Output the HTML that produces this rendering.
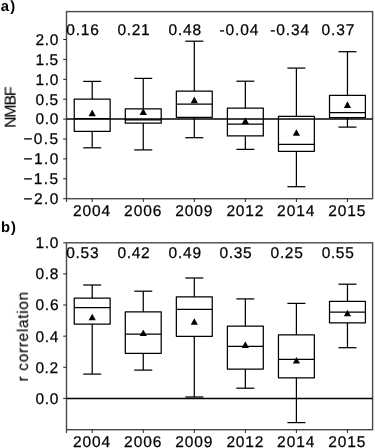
<!DOCTYPE html>
<html><head><meta charset="utf-8"><style>
html,body{margin:0;padding:0;background:#fff;}
svg{display:block;font-family:"Liberation Sans",sans-serif;}
text{will-change:transform;text-rendering:geometricPrecision;stroke:#000;stroke-width:0.25px;}
text.n{stroke:none;}
text.r{stroke-width:0.12px;}
</style></head><body>
<svg width="375" height="448" viewBox="0 0 375 448">
<rect width="375" height="448" fill="#fff"/>
<rect x="66.5" y="11.6" width="306.10" height="187.10" fill="none" stroke="#4a4a4a" stroke-width="1.4"/>
<line x1="92.20" y1="81.40" x2="92.20" y2="99.10" stroke="#000" stroke-width="1.25"/>
<line x1="92.20" y1="131.40" x2="92.20" y2="147.80" stroke="#000" stroke-width="1.25"/>
<line x1="83.20" y1="81.40" x2="101.20" y2="81.40" stroke="#000" stroke-width="1.25"/>
<line x1="83.20" y1="147.80" x2="101.20" y2="147.80" stroke="#000" stroke-width="1.25"/>
<rect x="74.25" y="99.10" width="35.90" height="32.30" fill="none" stroke="#000" stroke-width="1.25" stroke-linejoin="round"/>
<line x1="74.25" y1="118.60" x2="110.15" y2="118.60" stroke="#000" stroke-width="1.25"/>
<polygon points="92.20,109.60 88.60,116.20 95.80,116.20" fill="#000"/>
<line x1="143.25" y1="78.40" x2="143.25" y2="108.80" stroke="#000" stroke-width="1.25"/>
<line x1="143.25" y1="123.20" x2="143.25" y2="149.90" stroke="#000" stroke-width="1.25"/>
<line x1="134.25" y1="78.40" x2="152.25" y2="78.40" stroke="#000" stroke-width="1.25"/>
<line x1="134.25" y1="149.90" x2="152.25" y2="149.90" stroke="#000" stroke-width="1.25"/>
<rect x="125.30" y="108.80" width="35.90" height="14.40" fill="none" stroke="#000" stroke-width="1.25" stroke-linejoin="round"/>
<line x1="125.30" y1="119.80" x2="161.20" y2="119.80" stroke="#000" stroke-width="1.25"/>
<polygon points="143.25,108.30 139.65,114.90 146.85,114.90" fill="#000"/>
<line x1="194.30" y1="41.20" x2="194.30" y2="91.00" stroke="#000" stroke-width="1.25"/>
<line x1="194.30" y1="117.30" x2="194.30" y2="137.70" stroke="#000" stroke-width="1.25"/>
<line x1="185.30" y1="41.20" x2="203.30" y2="41.20" stroke="#000" stroke-width="1.25"/>
<line x1="185.30" y1="137.70" x2="203.30" y2="137.70" stroke="#000" stroke-width="1.25"/>
<rect x="176.35" y="91.00" width="35.90" height="26.30" fill="none" stroke="#000" stroke-width="1.25" stroke-linejoin="round"/>
<line x1="176.35" y1="104.20" x2="212.25" y2="104.20" stroke="#000" stroke-width="1.25"/>
<polygon points="194.30,96.60 190.70,103.20 197.90,103.20" fill="#000"/>
<line x1="245.35" y1="81.20" x2="245.35" y2="108.00" stroke="#000" stroke-width="1.25"/>
<line x1="245.35" y1="135.90" x2="245.35" y2="149.40" stroke="#000" stroke-width="1.25"/>
<line x1="236.35" y1="81.20" x2="254.35" y2="81.20" stroke="#000" stroke-width="1.25"/>
<line x1="236.35" y1="149.40" x2="254.35" y2="149.40" stroke="#000" stroke-width="1.25"/>
<rect x="227.40" y="108.00" width="35.90" height="27.90" fill="none" stroke="#000" stroke-width="1.25" stroke-linejoin="round"/>
<line x1="227.40" y1="124.00" x2="263.30" y2="124.00" stroke="#000" stroke-width="1.25"/>
<polygon points="245.35,117.50 241.75,124.10 248.95,124.10" fill="#000"/>
<line x1="296.40" y1="68.10" x2="296.40" y2="116.40" stroke="#000" stroke-width="1.25"/>
<line x1="296.40" y1="151.30" x2="296.40" y2="186.70" stroke="#000" stroke-width="1.25"/>
<line x1="287.40" y1="68.10" x2="305.40" y2="68.10" stroke="#000" stroke-width="1.25"/>
<line x1="287.40" y1="186.70" x2="305.40" y2="186.70" stroke="#000" stroke-width="1.25"/>
<rect x="278.45" y="116.40" width="35.90" height="34.90" fill="none" stroke="#000" stroke-width="1.25" stroke-linejoin="round"/>
<line x1="278.45" y1="144.30" x2="314.35" y2="144.30" stroke="#000" stroke-width="1.25"/>
<polygon points="296.40,129.20 292.80,135.80 300.00,135.80" fill="#000"/>
<line x1="347.45" y1="51.70" x2="347.45" y2="95.30" stroke="#000" stroke-width="1.25"/>
<line x1="347.45" y1="117.60" x2="347.45" y2="127.10" stroke="#000" stroke-width="1.25"/>
<line x1="338.45" y1="51.70" x2="356.45" y2="51.70" stroke="#000" stroke-width="1.25"/>
<line x1="338.45" y1="127.10" x2="356.45" y2="127.10" stroke="#000" stroke-width="1.25"/>
<rect x="329.50" y="95.30" width="35.90" height="22.30" fill="none" stroke="#000" stroke-width="1.25" stroke-linejoin="round"/>
<line x1="329.50" y1="112.70" x2="365.40" y2="112.70" stroke="#000" stroke-width="1.25"/>
<polygon points="347.45,101.30 343.85,107.90 351.05,107.90" fill="#000"/>
<line x1="66.50" y1="118.90" x2="372.60" y2="118.90" stroke="#000" stroke-width="1.5"/>
<line x1="92.20" y1="198.70" x2="92.20" y2="202.00" stroke="#222" stroke-width="1"/>
<line x1="143.25" y1="198.70" x2="143.25" y2="202.00" stroke="#222" stroke-width="1"/>
<line x1="194.30" y1="198.70" x2="194.30" y2="202.00" stroke="#222" stroke-width="1"/>
<line x1="245.35" y1="198.70" x2="245.35" y2="202.00" stroke="#222" stroke-width="1"/>
<line x1="296.40" y1="198.70" x2="296.40" y2="202.00" stroke="#222" stroke-width="1"/>
<line x1="347.45" y1="198.70" x2="347.45" y2="202.00" stroke="#222" stroke-width="1"/>
<line x1="66.50" y1="198.70" x2="66.50" y2="202.00" stroke="#444" stroke-width="1.2"/>
<rect x="66.5" y="242.8" width="306.10" height="186.90" fill="none" stroke="#4a4a4a" stroke-width="1.4"/>
<line x1="92.20" y1="285.00" x2="92.20" y2="298.20" stroke="#000" stroke-width="1.25"/>
<line x1="92.20" y1="324.10" x2="92.20" y2="374.10" stroke="#000" stroke-width="1.25"/>
<line x1="83.20" y1="285.00" x2="101.20" y2="285.00" stroke="#000" stroke-width="1.25"/>
<line x1="83.20" y1="374.10" x2="101.20" y2="374.10" stroke="#000" stroke-width="1.25"/>
<rect x="74.25" y="298.20" width="35.90" height="25.90" fill="none" stroke="#000" stroke-width="1.25" stroke-linejoin="round"/>
<line x1="74.25" y1="307.50" x2="110.15" y2="307.50" stroke="#000" stroke-width="1.25"/>
<polygon points="92.20,313.70 88.60,320.30 95.80,320.30" fill="#000"/>
<line x1="143.25" y1="291.20" x2="143.25" y2="311.80" stroke="#000" stroke-width="1.25"/>
<line x1="143.25" y1="353.30" x2="143.25" y2="370.10" stroke="#000" stroke-width="1.25"/>
<line x1="134.25" y1="291.20" x2="152.25" y2="291.20" stroke="#000" stroke-width="1.25"/>
<line x1="134.25" y1="370.10" x2="152.25" y2="370.10" stroke="#000" stroke-width="1.25"/>
<rect x="125.30" y="311.80" width="35.90" height="41.50" fill="none" stroke="#000" stroke-width="1.25" stroke-linejoin="round"/>
<line x1="125.30" y1="334.20" x2="161.20" y2="334.20" stroke="#000" stroke-width="1.25"/>
<polygon points="143.25,329.40 139.65,336.00 146.85,336.00" fill="#000"/>
<line x1="194.30" y1="278.00" x2="194.30" y2="296.80" stroke="#000" stroke-width="1.25"/>
<line x1="194.30" y1="336.30" x2="194.30" y2="397.00" stroke="#000" stroke-width="1.25"/>
<line x1="185.30" y1="278.00" x2="203.30" y2="278.00" stroke="#000" stroke-width="1.25"/>
<line x1="185.30" y1="397.00" x2="203.30" y2="397.00" stroke="#000" stroke-width="1.25"/>
<rect x="176.35" y="296.80" width="35.90" height="39.50" fill="none" stroke="#000" stroke-width="1.25" stroke-linejoin="round"/>
<line x1="176.35" y1="309.40" x2="212.25" y2="309.40" stroke="#000" stroke-width="1.25"/>
<polygon points="194.30,318.20 190.70,324.80 197.90,324.80" fill="#000"/>
<line x1="245.35" y1="298.90" x2="245.35" y2="326.00" stroke="#000" stroke-width="1.25"/>
<line x1="245.35" y1="369.10" x2="245.35" y2="388.20" stroke="#000" stroke-width="1.25"/>
<line x1="236.35" y1="298.90" x2="254.35" y2="298.90" stroke="#000" stroke-width="1.25"/>
<line x1="236.35" y1="388.20" x2="254.35" y2="388.20" stroke="#000" stroke-width="1.25"/>
<rect x="227.40" y="326.00" width="35.90" height="43.10" fill="none" stroke="#000" stroke-width="1.25" stroke-linejoin="round"/>
<line x1="227.40" y1="346.40" x2="263.30" y2="346.40" stroke="#000" stroke-width="1.25"/>
<polygon points="245.35,341.30 241.75,347.90 248.95,347.90" fill="#000"/>
<line x1="296.40" y1="303.40" x2="296.40" y2="334.90" stroke="#000" stroke-width="1.25"/>
<line x1="296.40" y1="377.80" x2="296.40" y2="422.60" stroke="#000" stroke-width="1.25"/>
<line x1="287.40" y1="303.40" x2="305.40" y2="303.40" stroke="#000" stroke-width="1.25"/>
<line x1="287.40" y1="422.60" x2="305.40" y2="422.60" stroke="#000" stroke-width="1.25"/>
<rect x="278.45" y="334.90" width="35.90" height="42.90" fill="none" stroke="#000" stroke-width="1.25" stroke-linejoin="round"/>
<line x1="278.45" y1="359.40" x2="314.35" y2="359.40" stroke="#000" stroke-width="1.25"/>
<polygon points="296.40,356.90 292.80,363.50 300.00,363.50" fill="#000"/>
<line x1="347.45" y1="284.20" x2="347.45" y2="301.30" stroke="#000" stroke-width="1.25"/>
<line x1="347.45" y1="322.80" x2="347.45" y2="347.70" stroke="#000" stroke-width="1.25"/>
<line x1="338.45" y1="284.20" x2="356.45" y2="284.20" stroke="#000" stroke-width="1.25"/>
<line x1="338.45" y1="347.70" x2="356.45" y2="347.70" stroke="#000" stroke-width="1.25"/>
<rect x="329.50" y="301.30" width="35.90" height="21.50" fill="none" stroke="#000" stroke-width="1.25" stroke-linejoin="round"/>
<line x1="329.50" y1="312.20" x2="365.40" y2="312.20" stroke="#000" stroke-width="1.25"/>
<polygon points="347.45,309.70 343.85,316.30 351.05,316.30" fill="#000"/>
<line x1="66.50" y1="398.40" x2="372.60" y2="398.40" stroke="#000" stroke-width="1.5"/>
<line x1="92.20" y1="429.70" x2="92.20" y2="433.00" stroke="#222" stroke-width="1"/>
<line x1="143.25" y1="429.70" x2="143.25" y2="433.00" stroke="#222" stroke-width="1"/>
<line x1="194.30" y1="429.70" x2="194.30" y2="433.00" stroke="#222" stroke-width="1"/>
<line x1="245.35" y1="429.70" x2="245.35" y2="433.00" stroke="#222" stroke-width="1"/>
<line x1="296.40" y1="429.70" x2="296.40" y2="433.00" stroke="#222" stroke-width="1"/>
<line x1="347.45" y1="429.70" x2="347.45" y2="433.00" stroke="#222" stroke-width="1"/>
<line x1="66.50" y1="429.70" x2="66.50" y2="433.00" stroke="#444" stroke-width="1.2"/>
<text x="66.23" y="34.90" font-size="15.5" letter-spacing="0.791" fill="#000">0.16</text>
<text x="66.23" y="257.90" font-size="15.5" letter-spacing="0.707" fill="#000">0.53</text>
<text x="117.55" y="34.90" font-size="15.5" letter-spacing="0.671" fill="#000">0.21</text>
<text x="117.55" y="257.90" font-size="15.5" letter-spacing="0.640" fill="#000">0.42</text>
<text x="168.57" y="34.90" font-size="15.5" letter-spacing="0.762" fill="#000">0.48</text>
<text x="168.57" y="257.90" font-size="15.5" letter-spacing="0.773" fill="#000">0.49</text>
<text x="219.41" y="34.90" font-size="15.5" letter-spacing="0.928" fill="#000">-0.04</text>
<text x="219.59" y="257.90" font-size="15.5" letter-spacing="0.660" fill="#000">0.35</text>
<text x="270.31" y="34.90" font-size="15.5" letter-spacing="0.878" fill="#000">-0.34</text>
<text x="270.61" y="257.90" font-size="15.5" letter-spacing="0.660" fill="#000">0.25</text>
<text x="321.39" y="34.90" font-size="15.5" letter-spacing="0.939" fill="#000">0.37</text>
<text x="321.63" y="257.90" font-size="15.5" letter-spacing="0.660" fill="#000">0.55</text>
<text x="73.02" y="216.30" font-size="15.5" letter-spacing="0.915" fill="#000">2004</text>
<text x="73.02" y="447.30" font-size="15.5" letter-spacing="0.915" fill="#000">2004</text>
<text x="124.10" y="216.30" font-size="15.5" letter-spacing="0.956" fill="#000">2006</text>
<text x="124.10" y="447.30" font-size="15.5" letter-spacing="0.956" fill="#000">2006</text>
<text x="175.17" y="216.30" font-size="15.5" letter-spacing="0.938" fill="#000">2009</text>
<text x="175.17" y="447.30" font-size="15.5" letter-spacing="0.938" fill="#000">2009</text>
<text x="226.41" y="216.30" font-size="15.5" letter-spacing="0.805" fill="#000">2012</text>
<text x="226.41" y="447.30" font-size="15.5" letter-spacing="0.805" fill="#000">2012</text>
<text x="277.10" y="216.30" font-size="15.5" letter-spacing="0.915" fill="#000">2014</text>
<text x="277.10" y="447.30" font-size="15.5" letter-spacing="0.915" fill="#000">2014</text>
<text x="328.36" y="216.30" font-size="15.5" letter-spacing="0.825" fill="#000">2015</text>
<text x="328.36" y="447.30" font-size="15.5" letter-spacing="0.825" fill="#000">2015</text>
<text x="35.42" y="44.85" font-size="15.5" letter-spacing="0.727" fill="#000">2.0</text>
<line x1="63.20" y1="39.50" x2="66.50" y2="39.50" stroke="#222" stroke-width="1"/>
<text x="35.56" y="64.75" font-size="15.5" letter-spacing="0.521" fill="#000">1.5</text>
<line x1="63.20" y1="59.40" x2="66.50" y2="59.40" stroke="#222" stroke-width="1"/>
<text x="35.56" y="84.65" font-size="15.5" letter-spacing="0.654" fill="#000">1.0</text>
<line x1="63.20" y1="79.30" x2="66.50" y2="79.30" stroke="#222" stroke-width="1"/>
<text x="35.48" y="104.55" font-size="15.5" letter-spacing="0.560" fill="#000">0.5</text>
<line x1="63.20" y1="99.20" x2="66.50" y2="99.20" stroke="#222" stroke-width="1"/>
<text x="35.48" y="124.45" font-size="15.5" letter-spacing="0.694" fill="#000">0.0</text>
<line x1="63.20" y1="119.10" x2="66.50" y2="119.10" stroke="#222" stroke-width="1"/>
<text x="23.43" y="144.35" font-size="15.5" letter-spacing="1.372" fill="#000">−0.5</text>
<line x1="63.20" y1="139.00" x2="66.50" y2="139.00" stroke="#222" stroke-width="1"/>
<text x="23.43" y="164.25" font-size="15.5" letter-spacing="1.461" fill="#000">−1.0</text>
<line x1="63.20" y1="158.90" x2="66.50" y2="158.90" stroke="#222" stroke-width="1"/>
<text x="23.43" y="184.15" font-size="15.5" letter-spacing="1.372" fill="#000">−1.5</text>
<line x1="63.20" y1="178.80" x2="66.50" y2="178.80" stroke="#222" stroke-width="1"/>
<text x="23.43" y="204.05" font-size="15.5" letter-spacing="1.461" fill="#000">−2.0</text>
<line x1="63.20" y1="198.70" x2="66.50" y2="198.70" stroke="#222" stroke-width="1"/>
<text x="35.56" y="248.15" font-size="15.5" letter-spacing="0.654" fill="#000">1.0</text>
<line x1="63.20" y1="242.80" x2="66.50" y2="242.80" stroke="#222" stroke-width="1"/>
<text x="35.48" y="279.27" font-size="15.5" letter-spacing="0.714" fill="#000">0.8</text>
<line x1="63.20" y1="273.92" x2="66.50" y2="273.92" stroke="#222" stroke-width="1"/>
<text x="35.48" y="310.39" font-size="15.5" letter-spacing="0.757" fill="#000">0.6</text>
<line x1="63.20" y1="305.04" x2="66.50" y2="305.04" stroke="#222" stroke-width="1"/>
<text x="35.48" y="341.51" font-size="15.5" letter-spacing="0.695" fill="#000">0.4</text>
<line x1="63.20" y1="336.16" x2="66.50" y2="336.16" stroke="#222" stroke-width="1"/>
<text x="35.48" y="372.63" font-size="15.5" letter-spacing="0.530" fill="#000">0.2</text>
<line x1="63.20" y1="367.28" x2="66.50" y2="367.28" stroke="#222" stroke-width="1"/>
<text x="35.48" y="403.75" font-size="15.5" letter-spacing="0.694" fill="#000">0.0</text>
<line x1="63.20" y1="398.40" x2="66.50" y2="398.40" stroke="#222" stroke-width="1"/>
<text x="0" y="0" font-size="15.8" letter-spacing="-1.078" class="r" fill="#000" transform="translate(15.60 127.90) rotate(-90)">NMBF</text>
<text x="0" y="0" font-size="15.5" letter-spacing="0.658" class="r" fill="#000" transform="translate(27.90 381.53) rotate(-90)">r correlation</text>
<text x="0.77" y="10.90" font-size="14.8" letter-spacing="1.211" font-weight="bold" class="n" fill="#000">a)</text>
<text x="1.12" y="232.40" font-size="14.8" letter-spacing="0.844" font-weight="bold" class="n" fill="#000">b)</text>
</svg>
</body></html>
